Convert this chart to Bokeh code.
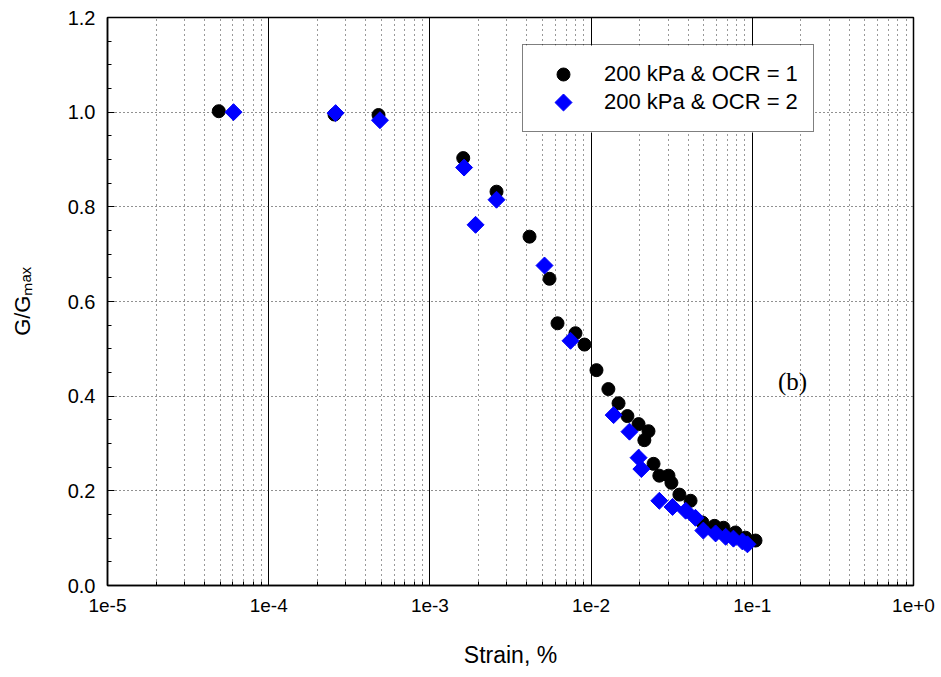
import numpy as np
from bokeh.plotting import figure
from bokeh.models import (FixedTicker, CustomJSTickFormatter, Label, Legend, LegendItem,
                          BoxAnnotation)
from bokeh.embed import file_html
from bokeh.resources import INLINE

# ---- data ----
strain_ocr1 = [4.9e-5, 2.56e-4, 4.8e-4, 1.61e-3, 2.59e-3, 4.15e-3, 5.52e-3, 6.19e-3,
               8.0e-3, 9.1e-3, 1.08e-2, 1.28e-2, 1.48e-2, 1.68e-2, 1.97e-2, 2.27e-2,
               2.14e-2, 2.44e-2, 2.65e-2, 3.02e-2, 3.15e-2, 3.53e-2, 4.14e-2, 4.91e-2,
               5.83e-2, 6.63e-2, 7.87e-2, 9.08e-2, 1.047e-1]
ggmax_ocr1 = [1.002, 0.995, 0.994, 0.903, 0.832, 0.737, 0.648, 0.554,
              0.533, 0.509, 0.455, 0.415, 0.385, 0.358, 0.341, 0.326,
              0.307, 0.257, 0.232, 0.232, 0.217, 0.192, 0.179, 0.133,
              0.126, 0.122, 0.112, 0.101, 0.095]

strain_ocr2 = [6.05e-5, 2.6e-4, 4.9e-4, 1.63e-3, 1.92e-3, 2.59e-3, 5.14e-3, 7.45e-3,
               1.38e-2, 1.73e-2, 1.97e-2, 2.05e-2, 2.65e-2, 3.2e-2, 3.86e-2, 4.44e-2,
               4.97e-2, 5.92e-2, 6.83e-2, 7.64e-2, 8.69e-2, 9.33e-2]
ggmax_ocr2 = [1.0, 0.998, 0.983, 0.883, 0.762, 0.815, 0.676, 0.517,
              0.360, 0.325, 0.270, 0.246, 0.179, 0.166, 0.158, 0.143,
              0.116, 0.110, 0.103, 0.099, 0.093, 0.087]

x_major_ticks = [1e-5, 1e-4, 1e-3, 1e-2, 1e-1, 1e0]
y_major_ticks = [0.0, 0.2, 0.4, 0.6, 0.8, 1.0, 1.2]
legend_labels = ["200 kPa & OCR = 1", "200 kPa & OCR = 2"]
x_title = "Strain, %"
y_title = "G/G\u2098\u2090\u2093"
panel_tag = "(b)"

FONT = "Liberation Sans"

# frame: left 107, right 913, top 17, bottom 585 (page pixels)
FL, FR, FT, FB = 107, 913, 17, 585
W, H = 936, 672

p = figure(width=W, height=H, x_axis_type="log",
           x_range=(1e-5, 1.0), y_range=(0.0, 1.2),
           output_backend="svg", toolbar_location=None,
           min_border_left=FL, min_border_right=W - FR,
           min_border_top=FT, min_border_bottom=H - FB)
p.background_fill_color = "white"
p.border_fill_color = "white"
p.outline_line_color = "black"
p.outline_line_width = 1.5

x_minor = [m * d for d in x_major_ticks[:-1] for m in range(2, 10)]
y_minor = [round(v, 2) for v in np.arange(0, 1.2001, 0.05)]

p.xaxis.ticker = FixedTicker(ticks=x_major_ticks, minor_ticks=x_minor)
p.yaxis.ticker = FixedTicker(ticks=y_major_ticks, minor_ticks=y_minor)
p.xaxis.formatter = CustomJSTickFormatter(code="""
    const e = Math.round(Math.log10(tick));
    return "1e" + (e >= 0 ? "+" : "") + e;
""")
p.yaxis.formatter = CustomJSTickFormatter(code="return tick.toFixed(1);")

for ax in (p.xaxis, p.yaxis):
    ax.axis_line_color = "black"
    ax.axis_line_width = 1.5
    ax.major_tick_in = 7
    ax.major_tick_out = 0
    ax.minor_tick_in = 4
    ax.minor_tick_out = 0
    ax.major_tick_line_color = "black"
    ax.minor_tick_line_color = "black"
    ax.major_label_text_font = FONT
    ax.major_label_text_color = "black"
    ax.axis_label_text_font = FONT
    ax.axis_label_text_font_style = "normal"
    ax.axis_label_text_color = "black"
p.xaxis.major_label_text_font_size = "19px"
p.yaxis.major_label_text_font_size = "20px"
p.xaxis.major_label_standoff = 13
p.yaxis.major_label_standoff = 12

p.xaxis.axis_label = x_title
p.xaxis.axis_label_text_font_size = "23px"
p.xaxis.axis_label_standoff = 27

p.yaxis.axis_label = y_title
p.yaxis.axis_label_text_font_size = "22px"
p.yaxis.axis_label_standoff = 30

# grids
p.xgrid.grid_line_color = "black"
p.xgrid.grid_line_width = 1
p.xgrid.minor_grid_line_color = "#333333"
p.xgrid.minor_grid_line_dash = "1 4"
p.xgrid.minor_grid_line_width = 1
p.ygrid.grid_line_color = "#222222"
p.ygrid.grid_line_dash = "1 3"
p.ygrid.grid_line_width = 1


def px_to_logx(px):
    return 10 ** (-5 + (px - FL) / ((FR - FL) / 5))


def py_to_y(py):
    return (FB - py) / ((FB - FT) / 1.2)


# legend box geometry (page pixels)
LB_L, LB_R, LB_T, LB_B = 522, 813, 45, 132
SW_X, SW_Y1, SW_Y2 = 563, 74, 102

# opaque white legend background, drawn just above the grid lines
p.add_layout(BoxAnnotation(left=px_to_logx(LB_L), right=px_to_logx(LB_R),
                           top=py_to_y(LB_T), bottom=py_to_y(LB_B),
                           fill_color="white", fill_alpha=1.0,
                           line_alpha=0, level="underlay"))

r1 = p.scatter(strain_ocr1, ggmax_ocr1, marker="circle", size=13,
               fill_color="black", line_color="black")
r2 = p.scatter(strain_ocr2, ggmax_ocr2, marker="square", size=12, angle=np.pi / 4,
               fill_color="#0000ff", line_color="#0000ff")

# legend swatches drawn at full marker size (Bokeh legends shrink / do not rotate markers)
p.scatter(x=[px_to_logx(SW_X)], y=[py_to_y(SW_Y1)], marker="circle", size=13,
          fill_color="black", line_color="black")
p.scatter(x=[px_to_logx(SW_X)], y=[py_to_y(SW_Y2)], marker="square", size=12,
          angle=np.pi / 4, fill_color="#0000ff", line_color="#0000ff")
proxy1 = p.scatter(x=[], y=[], marker="circle", fill_alpha=0, line_alpha=0)
proxy2 = p.scatter(x=[], y=[], marker="square", fill_alpha=0, line_alpha=0)

legend = Legend(items=[LegendItem(label=legend_labels[0], renderers=[proxy1]),
                       LegendItem(label=legend_labels[1], renderers=[proxy2])],
                location=(LB_L - FL, FB - LB_B))
legend.border_line_color = "black"
legend.border_line_width = 1.5
legend.background_fill_alpha = 0.0
legend.padding = 15
legend.spacing = 0
legend.glyph_width = 52
legend.glyph_height = 28
legend.label_height = 28
legend.label_standoff = 14
legend.label_text_font = FONT
legend.label_text_font_size = "22px"
legend.label_text_color = "black"
legend.label_text_baseline = "middle"
legend.margin = 0
p.add_layout(legend, "center")

p.add_layout(Label(x=px_to_logx(792), y=py_to_y(381), text=panel_tag,
                   text_font="Liberation Serif", text_font_size="25px",
                   text_align="center", text_baseline="middle", text_color="black"))

open("out.html", "w").write(file_html(p, INLINE))
